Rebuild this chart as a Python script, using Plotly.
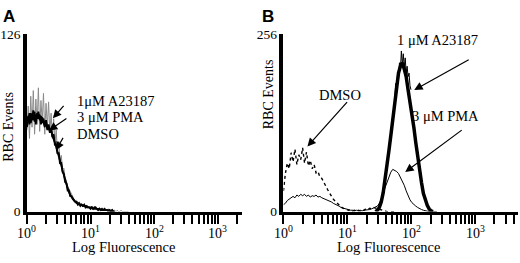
import numpy as np
import plotly.graph_objects as go

# ---------------- data ----------------
# Panel A: log-channel step 0.02 starting at 10^0
stepA = 0.02
A_dmso = [58,75,52,82,60,86,55,80,62,88,
          57,79,64,84,55,77,60,78,56,70,
          52,66,48,58,42,50,36,40,30,31,
          24,22,18,16,14,12,10,9,8,8,
          7,6,6,5,5,5,4,4,4,3,
          3,4,3,2,3,2,2,3,2,2,
          1,2,1,1,2,1,1,0,1,1,
          0,1,0,0,1,0,0,0,0,0,0]
A_a23187 = [64,68,62,70,66,72,64,69,67,71,
            65,68,63,66,61,64,59,62,57,58,
            54,52,49,46,43,40,36,33,29,26,
            22,19,16,14,12,10,9,8,7,6,
            6,5,5,5,4,4,4,3,3,3,
            3,3,2,2,3,2,2,2,1,2,
            1,1,1,1,1,1,0,1,0,0]
A_pma = [60,66,70,63,68,65,71,62,70,66,
         69,62,67,64,60,65,58,61,56,59,
         53,55,47,48,41,42,34,35,28,27,
         21,20,15,15,11,11,9,8,7,7,
         5,6,4,5,4,5,3,4,3,3,
         2,3,2,3,2,2,1,2,1,1,
         1,2,1,1,0,1,0,1,0,0]

# Panel B: log-channel step 0.03 starting at 10^0
stepB = 0.03
B_dmso = [30,55,70,62,85,72,90,68,82,75,
          92,70,86,66,74,62,68,56,58,50,
          48,42,38,32,27,22,18,15,12,9,
          7,5,4,3,2,3,1,2,1,2,
          1,3,2,4,3,5,4,6,5,4,
          3,2,1,0,0,0,0,0,0,0]
B_pma = [10,12,16,18,21,22,20,24,22,25,
         23,25,22,24,21,23,22,24,21,22,
         20,19,18,16,15,14,12,11,9,8,
         6,5,4,3,3,2,2,1,2,1,
         2,1,2,2,3,3,4,5,6,8,
         12,18,27,35,44,52,57,61,60,58,
         55,50,45,38,30,22,17,13,10,8,
         6,4,3,2,1,0,0,0,0,0,0]
# A23187 in panel B starts at 10^1.44
B_a_start = 1.44
B_a23187 = [0,2,6,14,27,45,64,88,110,135,
            158,180,200,210,215,206,195,176,160,145,
            122,100,78,58,42,26,16,9,4,1,0]
# fine spikes at the top of the A23187 peak, from 10^1.74, step 0.015
B_spk_start = 1.74
B_spk_step = 0.015
B_spikes = [160,185,172,198,190,215,205,232,212,228,208,222,200,210,195,200,182,176]

decades = [0, 1, 2, 3]
decade_labels = ["10<sup>0</sup>", "10<sup>1</sup>", "10<sup>2</sup>", "10<sup>3</sup>"]

def chan(start, step, vals):
    return 10 ** (start + step * np.arange(len(vals)))

W, H = 520, 263
def px(x):
    return x / W
def py(y):
    return 1 - y / H

serif = "Liberation Serif, Times New Roman, serif"

fig = go.Figure()
# Panel A
fig.add_trace(go.Scatter(x=chan(0, stepA, A_dmso), y=A_dmso, mode="lines",
                         line=dict(color="#8a8a8a", width=1), xaxis="x", yaxis="y"))
fig.add_trace(go.Scatter(x=chan(0, stepA, A_pma), y=A_pma, mode="lines",
                         line=dict(color="black", width=1.8), xaxis="x", yaxis="y"))
fig.add_trace(go.Scatter(x=chan(0, stepA, A_a23187), y=A_a23187, mode="lines",
                         line=dict(color="black", width=1.8), xaxis="x", yaxis="y"))
# Panel B
fig.add_trace(go.Scatter(x=chan(0, stepB, B_dmso), y=B_dmso, mode="lines",
                         line=dict(color="black", width=1.4, dash="dot"), xaxis="x2", yaxis="y2"))
fig.add_trace(go.Scatter(x=chan(0, stepB, B_pma), y=B_pma, mode="lines",
                         line=dict(color="black", width=1), xaxis="x2", yaxis="y2"))
fig.add_trace(go.Scatter(x=chan(B_a_start, stepB, B_a23187), y=B_a23187, mode="lines",
                         line=dict(color="black", width=3.5), xaxis="x2", yaxis="y2"))
fig.add_trace(go.Scatter(x=chan(B_spk_start, B_spk_step, B_spikes), y=B_spikes, mode="lines",
                         line=dict(color="black", width=1), xaxis="x2", yaxis="y2"))

tickvals = [m * 10 ** d for d in decades for m in range(1, 10)]

xcommon = dict(type="log", showline=True, linewidth=3, linecolor="black",
               ticks="outside", ticklen=9, tickwidth=1.5, tickcolor="black",
               showgrid=False, zeroline=False, tickvals=tickvals, showticklabels=False)
ycommon = dict(showline=True, linewidth=3.5, linecolor="black", ticks="",
               showgrid=False, zeroline=False,
               tickfont=dict(family=serif, size=13.5, color="black"))

yd = [py(217), py(29)]
fig.update_layout(
    width=W, height=H, margin=dict(l=0, r=0, t=0, b=0),
    paper_bgcolor="white", plot_bgcolor="white", showlegend=False,
    xaxis=dict(xcommon, domain=[px(26), px(241)], range=[0, 3.375], anchor="y"),
    yaxis=dict(ycommon, domain=yd, range=[0, 126], tickvals=[0, 126],
               ticktext=["0", "126"], anchor="x"),
    xaxis2=dict(xcommon, domain=[px(283), px(518)], range=[0, 3.67], anchor="y2"),
    yaxis2=dict(ycommon, domain=yd, range=[0, 256], tickvals=[0, 256],
                ticktext=["0", "256"], anchor="x2"),
)

ann = []
def text(x, y, s, size=14.5, xanchor="center", family=serif, bold=False, angle=0):
    ann.append(dict(x=px(x), y=py(y), xref="paper", yref="paper", text=("<b>%s</b>" % s) if bold else s,
                    showarrow=False, xanchor=xanchor, yanchor="middle", textangle=angle,
                    font=dict(family=family, size=size, color="black")))
def arrow(x0, y0, x1, y1, head=1.4):
    ann.append(dict(x=px(x1), y=py(y1), xref="paper", yref="paper", text="",
                    showarrow=True, ax=x0 - x1, ay=y0 - y1, axref="pixel", ayref="pixel",
                    arrowhead=2, arrowsize=head, arrowwidth=1.2, arrowcolor="black"))

# decade tick labels (log axis annotations use log10 units)
for xr in ["x", "x2"]:
    for d, lab in zip(decades, decade_labels):
        ann.append(dict(x=d, y=py(239), xref=xr, yref="paper", text=lab, showarrow=False,
                        xanchor="center", yanchor="middle",
                        font=dict(family=serif, size=14, color="black")))

# panel letters
text(8, 10, "A", size=17, family="Liberation Sans, Arial, sans-serif", bold=True)
text(268, 10, "B", size=17, family="Liberation Sans, Arial, sans-serif", bold=True)
# axis titles
text(8, 127, "RBC Events", size=14, angle=-90)
text(268, 92, "RBC Events", size=14, angle=-90)
text(123, 254, "Log Fluorescence", size=14.5)
text(388, 254, "Log Fluorescence", size=14.5)
# panel A labels
text(74, 100, "1μM A23187", xanchor="left")
text(74, 117, "3 μM PMA", xanchor="left")
text(74, 135, "DMSO", xanchor="left")
arrow(64, 104, 52, 118)
arrow(67, 118, 48, 131)
arrow(63, 138, 55, 152)
# panel B labels
text(437, 35, "1 μM A23187")
text(445, 116, "3 μM PMA")
text(340, 93, "DMSO")
arrow(470, 57, 414, 88)
arrow(463, 132, 405, 175)
arrow(348, 102, 307, 148)

fig.update_layout(annotations=ann)
fig.write_html("out.html", config={"displayModeBar": False},
               post_script="document.body.style.margin='0';document.body.style.overflow='hidden';")
